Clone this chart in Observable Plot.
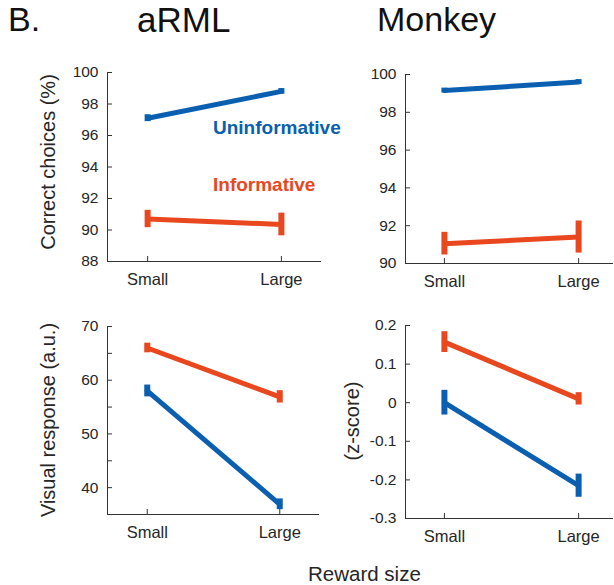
<!DOCTYPE html>
<html>
<head>
<meta charset="utf-8">
<script src="https://cdn.jsdelivr.net/npm/d3@7"></script>
<script src="https://cdn.jsdelivr.net/npm/@observablehq/plot@0.6"></script>
<style>
  html, body { margin: 0; padding: 0; background: #fff; }
  #wrap { position: relative; width: 614px; height: 585px; overflow: hidden;
          font-family: "Liberation Sans", Arial, Helvetica, sans-serif; color: #111; }
  #wrap svg { position: absolute; overflow: visible; }
  .t { position: absolute; white-space: nowrap; line-height: 1; }
  .rot { position: absolute; white-space: nowrap; line-height: 1; font-size: 20px; color: #262626;
         transform: translate(-50%, -50%) rotate(-90deg); }
</style>
</head>
<body>
<div id="wrap">
  <div class="t" style="left:8px;top:2px;font-size:34px;">B.</div>
  <div class="t" style="left:137px;top:2px;font-size:35px;">aRML</div>
  <div class="t" style="left:377px;top:2px;font-size:34px;">Monkey</div>
  <div class="rot" style="left:48px;top:162px;">Correct choices (%)</div>
  <div class="rot" style="left:48px;top:420px;">Visual response (a.u.)</div>
  <div class="rot" style="left:352px;top:421px;">(z-score)</div>
  <div class="t" style="left:213px;top:118px;font-size:19px;font-weight:bold;color:#0a5fb0;">Uninformative</div>
  <div class="t" style="left:213px;top:175px;font-size:19px;font-weight:bold;color:#e9471d;">Informative</div>
  <div class="t" style="left:308px;top:564px;font-size:20.5px;color:#262626;">Reward size</div>
</div>
<script>
// ---- data ----
const categories = ["Small", "Large"];
const series = ["Uninformative", "Informative"];
const colors = ["#0a5fb0", "#e9471d"];

// Correct choices (%) — aRML
const armlChoiceUninf = [97.1, 98.8];
const armlChoiceUninfErr = [0.22, 0.18];
const armlChoiceInf = [90.7, 90.35];
const armlChoiceInfErr = [0.55, 0.72];

// Correct choices (%) — Monkey
const monkChoiceUninf = [99.15, 99.6];
const monkChoiceUninfErr = [0.13, 0.13];
const monkChoiceInf = [91.05, 91.4];
const monkChoiceInfErr = [0.6, 0.85];

// Visual response (a.u.) — aRML
const armlVisUninf = [58.0, 36.9];
const armlVisUninfErr = [1.1, 1.0];
const armlVisInf = [66.0, 56.9];
const armlVisInfErr = [0.9, 1.15];

// Visual response (z-score) — Monkey
const monkVisUninf = [0.0, -0.215];
const monkVisUninfErr = [0.032, 0.03];
const monkVisInf = [0.157, 0.01];
const monkVisInfErr = [0.027, 0.016];

// tick values
const ticksChoiceArml = [88, 90, 92, 94, 96, 98, 100];
const ticksChoiceMonk = [90, 92, 94, 96, 98, 100];
const ticksVisArml = [35, 40, 45, 50, 55, 60, 65, 70];
const labelsVisArml = [40, 50, 60, 70];
const ticksVisMonk = [-0.3, -0.2, -0.1, 0, 0.1, 0.2];

function rowsOf(uninf, uninfErr, inf, infErr) {
  const rows = [];
  [[uninf, uninfErr], [inf, infErr]].forEach(([m, e], si) => {
    categories.forEach((c, ci) => rows.push({series: series[si], xi: ci, mean: m[ci], err: e[ci]}));
  });
  return rows;
}

function panel(cfg) {
  const rows = rowsOf(cfg.uninf, cfg.uninfErr, cfg.inf, cfg.infErr);
  const width = cfg.ml + cfg.pw + cfg.mr;
  const height = cfg.mt + cfg.ph + cfg.mb;
  const axisColor = "#333";
  const svg = Plot.plot({
    width, height,
    marginLeft: cfg.ml, marginRight: cfg.mr, marginTop: cfg.mt, marginBottom: cfg.mb,
    style: {fontFamily: '"Liberation Sans", Arial, Helvetica, sans-serif', fontSize: "16px", color: "#262626", background: "transparent"},
    x: {domain: cfg.xDomain},
    y: {domain: cfg.yDomain},
    color: {domain: series, range: colors},
    marks: [
      Plot.axisX({ticks: [0, 1], tickFormat: i => categories[i], tickSize: 0, tickPadding: 12, label: null, fontSize: 16.5, fill: "#262626"}),
      Plot.axisY({ticks: cfg.yLabels, tickFormat: d => String(d), tickSize: 0, tickPadding: 9, label: null, fontSize: 15.5, fill: "#262626"}),
      Plot.ruleY([cfg.yDomain[0]], {stroke: axisColor, strokeWidth: 1}),
      Plot.ruleX([cfg.xDomain[0]], {stroke: axisColor, strokeWidth: 1}),
      Plot.ruleY(cfg.yTicks, {y: d => d, stroke: axisColor, strokeWidth: 1, insetRight: cfg.pw - 5}),
      Plot.ruleX([0, 1], {x: d => d, stroke: axisColor, strokeWidth: 1, insetTop: cfg.ph - 5}),
      Plot.line(rows, {x: "xi", y: "mean", z: "series", stroke: "series", strokeWidth: 5}),
      Plot.ruleX(rows, {x: "xi", y1: d => d.mean - d.err, y2: d => d.mean + d.err, stroke: "series", strokeWidth: 6})
    ]
  });
  svg.style.left = cfg.left + "px";
  svg.style.top = cfg.top + "px";
  return svg;
}

const wrap = document.getElementById("wrap");
wrap.appendChild(panel({
  left: 0, top: 40, ml: 107, pw: 214, mr: 10, mt: 32, ph: 189, mb: 40,
  xDomain: [-0.3, 1.3], yDomain: [88, 100], yTicks: ticksChoiceArml, yLabels: ticksChoiceArml,
  uninf: armlChoiceUninf, uninfErr: armlChoiceUninfErr, inf: armlChoiceInf, infErr: armlChoiceInfErr
}));
wrap.appendChild(panel({
  left: 300, top: 40, ml: 105, pw: 208, mr: 1, mt: 34, ph: 189, mb: 38,
  xDomain: [-0.29, 1.26], yDomain: [90, 100], yTicks: ticksChoiceMonk, yLabels: ticksChoiceMonk,
  uninf: monkChoiceUninf, uninfErr: monkChoiceUninfErr, inf: monkChoiceInf, infErr: monkChoiceInfErr
}));
wrap.appendChild(panel({
  left: 0, top: 300, ml: 107, pw: 212, mr: 10, mt: 26, ph: 188, mb: 40,
  xDomain: [-0.3, 1.3], yDomain: [35, 70], yTicks: ticksVisArml, yLabels: labelsVisArml,
  uninf: armlVisUninf, uninfErr: armlVisUninfErr, inf: armlVisInf, infErr: armlVisInfErr
}));
wrap.appendChild(panel({
  left: 300, top: 300, ml: 105, pw: 208, mr: 1, mt: 25, ph: 193, mb: 40,
  xDomain: [-0.29, 1.26], yDomain: [-0.3, 0.2], yTicks: ticksVisMonk, yLabels: ticksVisMonk,
  uninf: monkVisUninf, uninfErr: monkVisUninfErr, inf: monkVisInf, infErr: monkVisInfErr
}));
</script>
</body>
</html>
